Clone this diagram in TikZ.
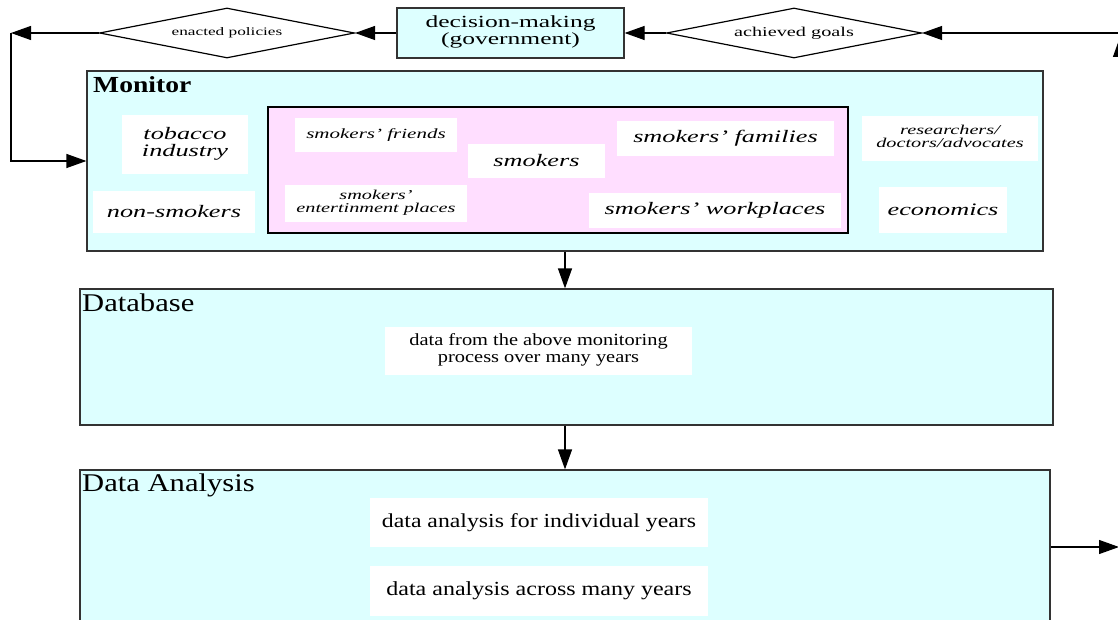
\documentclass[tikz,border=0pt]{standalone}
\usepackage{fontspec}
\usepackage{graphicx}
\setmainfont{Liberation Serif}
\usetikzlibrary{shapes.geometric,arrows.meta}
\definecolor{cyanbg}{RGB}{221,255,255}
\definecolor{pinkbg}{RGB}{255,222,255}
\newcommand{\sx}[1]{\scalebox{1.5}[1]{#1}}
\newcommand{\sxn}[1]{\scalebox{1.2}[1]{#1}}
\newcommand{\twol}[2]{\scalebox{1.5}[1]{\begin{tabular}{@{}c@{}}#1\\#2\end{tabular}}}
\newcommand{\twoln}[2]{\scalebox{1.2}[1]{\begin{tabular}{@{}c@{}}#1\\#2\end{tabular}}}
\newcommand{\fs}[1]{\fontsize{#1}{#1}\selectfont}
\tikzset{
  frame/.style={draw=black!80, line width=1.2pt, fill=cyanbg, inner sep=0pt},
  wbox/.style={fill=white, inner sep=0pt, align=center, font=\itshape},
  ubox/.style={fill=white, inner sep=0pt, align=center},
  dia/.style={diamond, draw=black, line width=1.2pt, fill=white, aspect=5.1, inner sep=0pt},
  ttl/.style={anchor=north west, inner sep=0pt},
  arr/.style={draw=black, line width=1.2pt, -{Triangle[length=20pt,width=14pt]}}
}
\begin{document}
\begin{tikzpicture}[x=1pt,y=-1pt]
\useasboundingbox (0,0) rectangle (1118,620);
\fill[white] (0,0) rectangle (1118,620);
\clip (0,0) rectangle (1118,620);

% top row
\node[frame, minimum width=227pt, minimum height=50pt, align=center] (dec) at (510.5,33)
  {\fs{17}\twol{decision-making}{(government)}};
\node[dia, minimum width=255pt, minimum height=50pt] (enact) at (227,33) {\fs{11.5}\sx{enacted policies}};
\node[dia, minimum width=255pt, minimum height=50pt] (ach) at (794,33) {\fs{13.5}\sx{achieved goals}};
\coordinate (TL) at (11,33);
\coordinate (TR) at (1125,33);
\coordinate (RB) at (1120,547);
\coordinate (RT) at (1120,37);
\coordinate (outR) at (1119,547);

% Monitor
\node[frame, minimum width=956pt, minimum height=180pt] (mon) at (565,161) {};
\node[ttl] (montitle) at (93,76) {\fs{23}\bfseries\sxn{Monitor}};
\node[draw=black, line width=2.6pt, fill=pinkbg, minimum width=580pt, minimum height=126pt, inner sep=0pt] (pink) at (558,170) {};
\node[wbox, minimum width=126pt, minimum height=59pt] (tob) at (185,144.5) {\fs{17.5}\twol{tobacco}{industry}};
\node[wbox, minimum width=162pt, minimum height=42pt] (nons) at (174,212) {\fs{17.5}\sx{non-smokers}};
\node[wbox, minimum width=162pt, minimum height=34pt] (friends) at (376,135) {\fs{14}\sx{smokers' friends}};
\node[wbox, minimum width=182pt, minimum height=37pt] (ent) at (376,203.5) {\fs{13.5}\twol{smokers'}{entertinment places}};
\node[wbox, minimum width=137pt, minimum height=34pt] (smk) at (536.5,161) {\fs{17.5}\sx{smokers}};
\node[wbox, minimum width=217pt, minimum height=35pt] (fam) at (725.5,138.5) {\fs{17.5}\sx{smokers' families}};
\node[wbox, minimum width=252pt, minimum height=35pt] (work) at (715,210.5) {\fs{17.5}\sx{smokers' workplaces}};
\node[wbox, minimum width=176pt, minimum height=45pt] (res) at (950,138.5) {\fs{13.5}\twol{researchers/}{doctors/advocates}};
\node[wbox, minimum width=128pt, minimum height=46pt] (eco) at (943,210) {\fs{17.5}\sx{economics}};

% Database
\node[frame, minimum width=973pt, minimum height=136pt] (db) at (566.5,357) {};
\node[ttl] (dbtitle) at (82,294) {\fs{25.5}\sxn{Database}};
\node[ubox, minimum width=307pt, minimum height=48pt] (dbtxt) at (538.5,351)
  {\fs{17}\twoln{data from the above monitoring}{process over many years}};

% Data analysis
\node[frame, minimum width=970pt, minimum height=210pt] (da) at (565,575) {};
\node[ttl] (datitle) at (82,474) {\fs{25.5}\sxn{Data Analysis}};
\node[ubox, minimum width=338pt, minimum height=49pt] (da1) at (539,522.5) {\fs{19.8}\sxn{data analysis for individual years}};
\node[ubox, minimum width=338pt, minimum height=50pt] (da2) at (539,591) {\fs{20}\sxn{data analysis across many years}};

% connectors
\draw[arr] (dec.west) -- (enact.east);
\draw[arr] (ach.west) -- (dec.east);
\draw[arr] (enact.west) -- (TL);
\draw[arr] (TL) |- (mon.west);
\draw[arr] (TR) -- (ach.east);
\draw[arr] (RB) -- (RT);
\draw[arr] (mon.south) -- (mon.south |- db.north);
\draw[arr] (db.south -| mon.south) -- (mon.south |- da.north);
\draw[arr] (outR -| da.east) -- (outR);
\end{tikzpicture}
\end{document}
